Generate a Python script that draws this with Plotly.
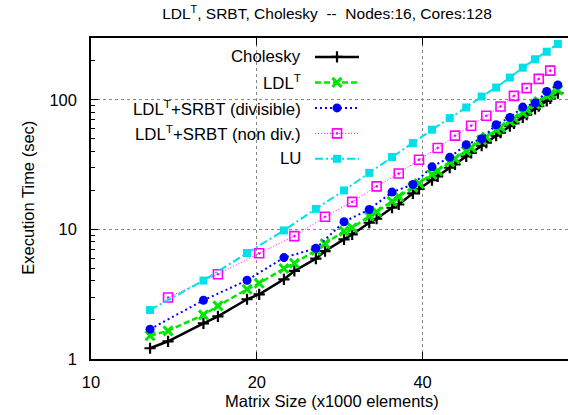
import plotly.graph_objects as go

# ---------------- data ----------------
sizes_all = [12.8, 13.8, 16.0, 17.0, 19.2, 20.2, 22.4, 23.4, 25.6, 26.6, 28.8, 29.8,
             32.0, 33.0, 35.2, 36.2, 38.4, 39.4, 41.6, 42.6, 44.8, 45.8, 48.0, 49.0,
             51.2, 52.2, 54.4, 55.4, 57.6, 58.6, 60.8, 61.8, 64.0, 65.0, 67.2, 68.2, 70.4]
sizes_div = [12.8, 16.0, 19.2, 22.4, 25.6, 28.8, 32.0, 35.2, 38.4, 41.6, 44.8, 48.0,
             51.2, 54.4, 57.6, 60.8, 64.0, 67.2, 70.4]
sizes_nondiv = [13.8, 17.0, 20.2, 23.4, 26.6, 29.8, 33.0, 36.2, 39.4, 42.6, 45.8, 49.0,
                52.2, 55.4, 58.6, 61.8, 65.0, 68.2]

cholesky = [1.21, 1.37, 1.88, 2.13, 2.89, 3.15, 4.12, 4.78, 5.95, 6.81, 8.38, 9.15,
            11.26, 12.08, 14.69, 15.57, 19.0, 20.5, 24.0, 25.7, 29.9, 31.8, 36.6, 38.9,
            44.2, 46.8, 52.8, 55.7, 62.5, 65.7, 73.3, 76.9, 85.2, 89.2, 98.3, 102.7, 112.6]
ldlt = [1.51, 1.65, 2.19, 2.57, 3.45, 3.84, 4.99, 5.48, 6.9, 7.76, 9.7, 10.3,
        12.65, 13.7, 16.5, 17.9, 21.2, 22.6, 26.5, 28.3, 33.2, 35.0, 40.3, 42.8,
        49.0, 51.6, 58.5, 61.3, 68.5, 72.0, 79.5, 84.0, 92.7, 97.0, 108.0, 111.0, 119.0]
srbt_div = [1.70, 2.84, 4.05, 6.06, 7.14, 11.46, 14.25, 19.4, 22.2, 30.4, 36.0, 45.1,
            50.1, 64.2, 73.1, 87.9, 94.3, 115.9, 130.4]
srbt_nondiv = [2.98, 4.51, 6.54, 8.88, 12.52, 16.3, 21.5, 26.97, 34.5, 42.5, 52.9, 63.1,
               75.3, 88.9, 107.3, 123.0, 145.0, 168.0]
lu = [2.39, 4.03, 6.57, 9.82, 14.4, 20.0, 27.3, 36.2, 46.4, 58.8, 72.3, 87.3,
      106.0, 124.4, 148.5, 177.0, 205.6, 235.0, 270.0]

x_ticks = [10, 20, 40]
y_ticks = [1, 10, 100]
y_minor = [2, 3, 4, 5, 6, 7, 8, 9, 20, 30, 40, 50, 60, 70, 80, 90, 200, 300]

names = ["Cholesky", "LDL<sup>T</sup>", "LDL<sup>T</sup>+SRBT (divisible)",
         "LDL<sup>T</sup>+SRBT (non div.)", "LU"]

# ---------------- styles ----------------
FONT = "Liberation Sans, Arial, Helvetica, sans-serif"
styles = [
    dict(color="#000000", width=2.5, dash="solid",
         marker=dict(symbol="cross-thin", size=8, line=dict(width=2.2, color="#000000"))),
    dict(color="#00e600", width=2.5, dash="6px,3px",
         marker=dict(symbol="x-thin", size=9, line=dict(width=3, color="#00e600"))),
    dict(color="#0000ff", width=2, dash="2px,3px",
         marker=dict(symbol="circle", size=9, color="#0000ff")),
    dict(color="#ff00ff", width=1, dash="1px,2px",
         marker=dict(symbol="square-open-dot", size=9, color="#ff00ff",
                     line=dict(width=1.6, color="#ff00ff"))),
    dict(color="#00e0e8", width=2, dash="8px,3px,2px,3px",
         marker=dict(symbol="square", size=8, color="#00e0e8")),
]
series = [(sizes_all, cholesky), (sizes_all, ldlt), (sizes_div, srbt_div),
          (sizes_nondiv, srbt_nondiv), (sizes_div, lu)]

fig = go.Figure()
for (xs, ys), st, nm in zip(series, styles, names):
    fig.add_trace(go.Scatter(
        x=xs, y=ys, mode="lines+markers", name=nm, showlegend=False,
        line=dict(color=st["color"], width=st["width"], dash=st["dash"]),
        marker=st["marker"], cliponaxis=False))

# ---------------- custom legend (right-aligned text, sample on the right) ----------------
L, R, T, B = 91, 568, 38, 359.5
leg_rows = [57, 82.5, 108, 133.5, 159]
text_right = 303
samp_x0, samp_xm, samp_x1 = 315, 337, 359
annotations = []
for i, (st, nm) in enumerate(zip(styles, names)):
    py = leg_rows[i]
    fig.add_trace(go.Scatter(
        x=[samp_x0, samp_x1], y=[py, py], mode="lines", xaxis="x2", yaxis="y2",
        showlegend=False, hoverinfo="skip",
        line=dict(color=st["color"], width=st["width"], dash=st["dash"])))
    fig.add_trace(go.Scatter(
        x=[samp_xm], y=[py], mode="markers", xaxis="x2", yaxis="y2",
        showlegend=False, hoverinfo="skip", marker=st["marker"]))
    annotations.append(dict(
        text=nm, xref="paper", yref="paper",
        x=(text_right - L) / (R - L), y=(B - py) / (B - T),
        xanchor="right", yanchor="middle", showarrow=False,
        font=dict(family=FONT, size=16.8, color="#000000")))

# axis titles
annotations.append(dict(
    text="Matrix Size (x1000 elements)", xref="paper", yref="paper",
    x=(332 - L) / (R - L), y=(B - 402) / (B - T), xanchor="center", yanchor="middle",
    showarrow=False, font=dict(family=FONT, size=16.5, color="#000000")))
annotations.append(dict(
    text="Execution Time (sec)", xref="paper", yref="paper", textangle=-90,
    x=(28 - L) / (R - L), y=(B - 198) / (B - T), xanchor="center", yanchor="middle",
    showarrow=False, font=dict(family=FONT, size=16.5, color="#000000")))

fig.update_layout(
    width=568, height=415,
    margin=dict(l=L, r=568 - R, t=T, b=415 - B),
    paper_bgcolor="white", plot_bgcolor="white",
    font=dict(family=FONT, size=16, color="#000000"),
    title=dict(text="LDL<sup>T</sup>, SRBT, Cholesky \u00a0--\u00a0 Nodes:16, Cores:128",
               x=(327 - 0) / 568, xref="container", xanchor="center",
               y=1 - 14 / 415, yref="container", yanchor="middle",
               font=dict(family=FONT, size=15.5, color="#000000")),
    xaxis=dict(type="log", range=[1.0, 1.866], tickvals=x_ticks,
               ticktext=[str(v) for v in x_ticks],
               ticks="inside", ticklen=7, tickwidth=1, tickcolor="#000000",
               showline=True, linecolor="#000000", linewidth=1.5, mirror="ticks",
               showgrid=True, gridcolor="#888888", griddash="dot", gridwidth=1,
               zeroline=False, ticklabelstandoff=7,
               tickfont=dict(family=FONT, size=16.5)),
    yaxis=dict(type="log", range=[0.0, 2.477], tickvals=y_ticks,
               ticktext=[str(v) for v in y_ticks],
               ticks="inside", ticklen=7, tickwidth=1, tickcolor="#000000",
               showline=True, linecolor="#000000", linewidth=1.5,
               showgrid=True, gridcolor="#888888", griddash="dot", gridwidth=1,
               zeroline=False, ticklabelstandoff=9,
               minor=dict(tickmode="array", tickvals=y_minor, ticks="inside",
                          ticklen=4, tickcolor="#000000", showgrid=False),
               tickfont=dict(family=FONT, size=16.5)),
    xaxis2=dict(overlaying="x", range=[L, R], visible=False, fixedrange=True),
    yaxis2=dict(overlaying="y", range=[B, T], visible=False, fixedrange=True),
    annotations=annotations,
)

fig.write_html("out.html")
